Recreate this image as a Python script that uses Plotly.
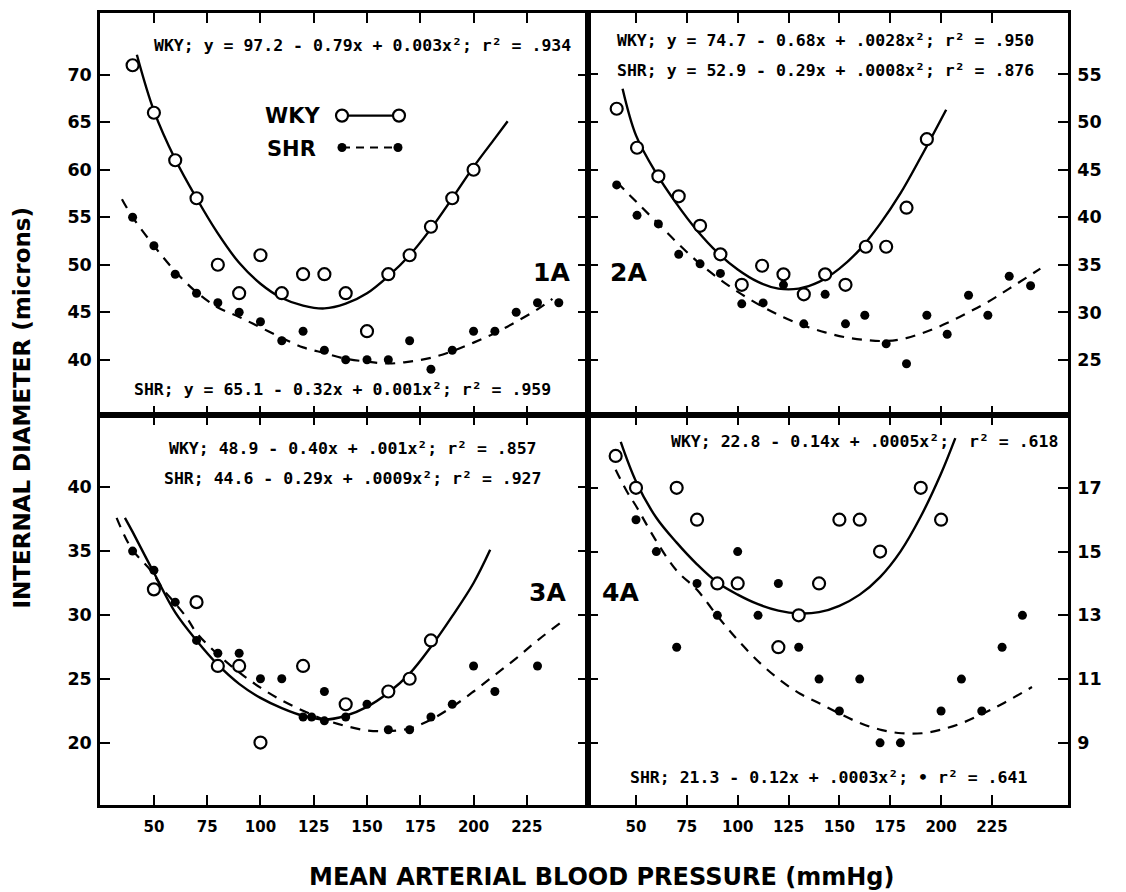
import plotly.graph_objects as go

# ---------------- data ----------------
x_tick_vals = [50, 75, 100, 125, 150, 175, 200, 225]

# Panel 1A
p1_wky_x = [40, 50, 60, 70, 80, 90, 100, 110, 120, 130, 140, 150, 160, 170, 180, 190, 200]
p1_wky_y = [71, 66, 61, 57, 50, 47, 51, 47, 49, 49, 47, 43, 49, 51, 54, 57, 60]
p1_shr_x = [40, 50, 60, 70, 80, 90, 100, 110, 120, 130, 140, 150, 160, 170, 180, 190, 200, 210, 220, 230, 240]
p1_shr_y = [55, 52, 49, 47, 46, 45, 44, 42, 43, 41, 40, 40, 40, 42, 39, 41, 43, 43, 45, 46, 46]
p1_wky_fit_x = [42, 50, 60, 70, 80, 90, 100, 110, 120, 130, 140, 150, 160, 170, 180, 190, 200, 210, 216]
p1_wky_fit_y = [72.1, 66.2, 61.1, 57.0, 53.3, 50.2, 48.0, 46.5, 45.7, 45.4, 45.9, 47.0, 48.8, 51.0, 53.8, 57.0, 60.3, 63.3, 65.1]
p1_shr_fit_x = [35, 40, 50, 60, 70, 80, 90, 100, 110, 120, 130, 140, 150, 160, 170, 180, 190, 200, 210, 220, 230, 237]
p1_shr_fit_y = [56.9, 55.0, 52.0, 49.3, 47.1, 45.5, 44.5, 43.4, 42.3, 41.3, 40.7, 40.1, 39.8, 39.6, 39.8, 40.2, 40.9, 41.8, 42.8, 44.0, 45.3, 46.4]
p1_y_ticks = [40, 45, 50, 55, 60, 65, 70]

# Panel 2A
p2_wky_x = [40.5, 50.5, 61, 71, 81.5, 91.5, 102, 112, 122.5, 132.5, 143, 153, 163, 173, 183, 193]
p2_wky_y = [51.4, 47.3, 44.3, 42.2, 39.1, 36.1, 32.9, 34.9, 34.0, 31.9, 34.0, 32.9, 36.9, 36.9, 41.0, 48.2]
p2_shr_x = [40.5, 50.5, 61, 71, 81.5, 91.5, 102, 112.5, 122.5, 132.5, 143, 153, 162.5, 173, 183, 193, 203, 213.5, 223, 233.5, 244]
p2_shr_y = [43.4, 40.2, 39.3, 36.1, 35.1, 34.1, 30.9, 31.0, 32.9, 28.8, 31.9, 28.8, 29.7, 26.7, 24.6, 29.7, 27.7, 31.8, 29.7, 33.8, 32.8]
p2_wky_fit_x = [43.4, 50, 60, 70, 80, 90, 100, 110, 120, 130, 140, 150, 160, 170, 180, 190, 202.5]
p2_wky_fit_y = [53.5, 48.6, 44.6, 41.4, 38.6, 36.3, 34.5, 33.2, 32.5, 32.5, 33.2, 34.6, 36.6, 39.3, 42.5, 46.3, 51.3]
p2_shr_fit_x = [40.5, 50.7, 61, 71.3, 81.5, 91.7, 102, 112.2, 122.5, 132.7, 143, 152.8, 163, 173.3, 182.9, 193, 203.2, 213.4, 223, 233.5, 248.8]
p2_shr_fit_y = [43.7, 41.5, 39.3, 37.1, 35.1, 33.4, 31.9, 30.6, 29.5, 28.6, 27.9, 27.4, 27.1, 27.0, 27.3, 28.0, 28.9, 30.0, 31.1, 32.5, 34.6]
p2_y_ticks = [25, 30, 35, 40, 45, 50, 55]

# Panel 3A
p3_wky_x = [50, 70, 80, 90, 100, 120, 140, 160, 170, 180]
p3_wky_y = [32, 31, 26, 26, 20, 26, 23, 24, 25, 28]
p3_shr_x = [40, 50, 60, 70, 80, 90, 100, 110, 120, 124, 130, 130, 140, 150, 160, 170, 180, 190, 200, 210, 230]
p3_shr_y = [35, 33.5, 31, 28, 27, 27, 25, 25, 22, 22, 24, 21.7, 22, 23, 21, 21, 22, 23, 26, 24, 26]
p3_wky_fit_x = [36.4, 40, 50, 60, 70, 80, 90, 100, 110, 120, 130, 140, 150, 160, 170, 180, 190, 200, 207.8]
p3_wky_fit_y = [37.6, 36.5, 33.3, 30.2, 28.0, 26.1, 24.6, 23.5, 22.7, 22.1, 21.8, 22.1, 22.8, 23.9, 25.4, 27.5, 29.9, 32.5, 35.1]
p3_shr_fit_x = [32.5, 39.5, 48.9, 54.4, 60, 65.3, 70, 80, 90, 100, 110, 120, 130, 140, 150, 160, 170, 180, 190, 200, 210, 220, 230, 243.3]
p3_shr_fit_y = [37.6, 35.2, 33.4, 32.0, 30.9, 29.8, 28.6, 26.9, 25.5, 24.3, 23.3, 22.5, 21.8, 21.3, 20.95, 20.9, 21.1, 21.8, 22.8, 24.0, 25.3, 26.6, 28.0, 29.7]
p3_y_ticks = [20, 25, 30, 35, 40]

# Panel 4A
p4_wky_x = [40, 50, 70, 80, 90, 100, 120, 130, 140, 150, 160, 170, 190, 200]
p4_wky_y = [18, 17, 17, 16, 14, 14, 12, 13, 14, 16, 16, 15, 17, 16]
p4_shr_x = [50, 60, 70, 80, 90, 100, 110, 120, 130, 140, 150, 160, 170, 180, 200, 210, 220, 230, 240]
p4_shr_y = [16, 15, 12, 14, 13, 15, 13, 14, 12, 11, 10, 11, 9, 9, 10, 11, 10, 12, 13]
p4_wky_fit_x = [42.5, 50, 60, 70, 80, 90, 100, 110, 120, 130, 140, 150, 160, 170, 180, 190, 200, 207]
p4_wky_fit_y = [18.44, 17.2, 16.06, 15.28, 14.6, 14.03, 13.65, 13.35, 13.15, 13.06, 13.1, 13.3, 13.65, 14.2, 15.0, 16.1, 17.45, 18.56]
p4_shr_fit_x = [40, 45.4, 50.3, 59.3, 70, 80, 90.5, 100.4, 111, 121, 130.7, 141.4, 151.2, 161, 171, 180.7, 190.6, 200.4, 210.2, 220, 230, 244.7]
p4_shr_fit_y = [17.57, 16.9, 16.4, 15.4, 14.4, 13.8, 12.94, 12.2, 11.5, 10.96, 10.54, 10.2, 9.88, 9.6, 9.4, 9.3, 9.3, 9.42, 9.62, 9.9, 10.22, 10.75]
p4_y_ticks = [9, 11, 13, 15, 17]

# Equations / labels
eq_texts = [
    "WKY; y = 97.2 - 0.79x + 0.003x²; r² = .934",
    "SHR; y = 65.1 - 0.32x + 0.001x²; r² = .959",
    "WKY; y = 74.7 - 0.68x + .0028x²; r² = .950",
    "SHR; y = 52.9 - 0.29x + .0008x²; r² = .876",
    "WKY; 48.9 - 0.40x + .001x²; r² = .857",
    "SHR; 44.6 - 0.29x + .0009x²; r² = .927",
    "WKY; 22.8 - 0.14x + .0005x²;  r² = .618",
    "SHR; 21.3 - 0.12x + .0003x²; • r² = .641",
]
panel_names = ["1A", "2A", "3A", "4A"]
y_title = "INTERNAL DIAMETER (microns)"
x_title = "MEAN ARTERIAL BLOOD PRESSURE (mmHg)"

# ---------------- layout geometry (pixels) ----------------
W, H = 1126, 892
L, R, T, B = 100, 1068, 10, 805
MIDX, MIDY = 588, 414


def fx(px):
    return (px - L) / (R - L)


def fy(py):
    return (B - py) / (B - T)


xs = fx(MIDX)
ys = fy(MIDY)

SANS = "DejaVu Sans"
MONO = "DejaVu Sans Mono"

fig = go.Figure()

panels = [
    ("x", "y", p1_wky_x, p1_wky_y, p1_shr_x, p1_shr_y, p1_wky_fit_x, p1_wky_fit_y, p1_shr_fit_x, p1_shr_fit_y),
    ("x2", "y2", p2_wky_x, p2_wky_y, p2_shr_x, p2_shr_y, p2_wky_fit_x, p2_wky_fit_y, p2_shr_fit_x, p2_shr_fit_y),
    ("x3", "y3", p3_wky_x, p3_wky_y, p3_shr_x, p3_shr_y, p3_wky_fit_x, p3_wky_fit_y, p3_shr_fit_x, p3_shr_fit_y),
    ("x4", "y4", p4_wky_x, p4_wky_y, p4_shr_x, p4_shr_y, p4_wky_fit_x, p4_wky_fit_y, p4_shr_fit_x, p4_shr_fit_y),
]

for xa, ya, wx, wy, sx, sy, wfx, wfy, sfx, sfy in panels:
    fig.add_trace(go.Scatter(x=wfx, y=wfy, xaxis=xa, yaxis=ya, mode="lines",
                             line=dict(color="black", width=2.4, shape="spline", smoothing=1.0),
                             hoverinfo="skip", showlegend=False))
    fig.add_trace(go.Scatter(x=sfx, y=sfy, xaxis=xa, yaxis=ya, mode="lines",
                             line=dict(color="black", width=2.2, dash="10px,8px", shape="spline", smoothing=1.0),
                             hoverinfo="skip", showlegend=False))
    fig.add_trace(go.Scatter(x=sx, y=sy, xaxis=xa, yaxis=ya, mode="markers", name="SHR",
                             marker=dict(symbol="circle", size=9, color="black"),
                             showlegend=False))
    fig.add_trace(go.Scatter(x=wx, y=wy, xaxis=xa, yaxis=ya, mode="markers", name="WKY",
                             marker=dict(symbol="circle", size=12, color="white",
                                         line=dict(color="black", width=2.2)),
                             showlegend=False))

common = dict(showline=True, linecolor="black", linewidth=2.5, mirror="ticks",
              ticks="inside", ticklen=10, tickwidth=2, tickcolor="black",
              showgrid=False, zeroline=False)

xfont = dict(family=SANS, size=15, color="black", weight="bold")
yfont = dict(family=SANS, size=17.5, color="black", weight="bold")

fig.update_layout(
    width=W, height=H,
    margin=dict(l=L, r=W - R, t=T, b=H - B, pad=0),
    paper_bgcolor="white", plot_bgcolor="white",
    showlegend=False,
    xaxis=dict(domain=[0, xs], range=[24.7, 253.7], anchor="y", tickvals=x_tick_vals,
               showticklabels=False, **common),
    xaxis2=dict(domain=[xs, 1], range=[26.4, 262.4], anchor="y2", tickvals=x_tick_vals,
                showticklabels=False, **common),
    xaxis3=dict(domain=[0, xs], range=[24.7, 253.7], anchor="y3", tickvals=x_tick_vals,
                tickfont=xfont, ticklabelstandoff=6, **common),
    xaxis4=dict(domain=[xs, 1], range=[26.4, 262.4], anchor="y4", tickvals=x_tick_vals,
                tickfont=xfont, ticklabelstandoff=6, **common),
    yaxis=dict(domain=[ys, 1], range=[34.13, 76.5], anchor="x", tickvals=p1_y_ticks,
               tickfont=yfont, ticklabelstandoff=2, **common),
    yaxis2=dict(domain=[ys, 1], range=[19.17, 61.46], anchor="x2", side="right",
                tickvals=p2_y_ticks, tickfont=yfont, ticklabelstandoff=3, **common),
    yaxis3=dict(domain=[0, ys], range=[15.11, 45.62], anchor="x3", tickvals=p3_y_ticks,
                tickfont=yfont, ticklabelstandoff=2, **common),
    yaxis4=dict(domain=[0, ys], range=[7.05, 19.27], anchor="x4", side="right",
                tickvals=p4_y_ticks, tickfont=yfont, ticklabelstandoff=3, **common),
)

annotations = []
eq_pos = [(362, 43), (342, 388), (825, 38), (825, 68), (353, 447), (353, 477), (864, 440), (828, 777)]
for txt, (px, py) in zip(eq_texts, eq_pos):
    annotations.append(dict(text=txt, x=fx(px), y=fy(py), xref="paper", yref="paper",
                            xanchor="center", yanchor="middle", showarrow=False,
                            font=dict(family=MONO, size=16.5, color="black", weight="bold")))

label_pos = [(551, 270), (628, 270), (547, 592), (620, 592)]
for txt, (px, py) in zip(panel_names, label_pos):
    annotations.append(dict(text=txt, x=fx(px), y=fy(py), xref="paper", yref="paper",
                            xanchor="center", yanchor="middle", showarrow=False,
                            font=dict(family=SANS, size=25, color="black", weight="bold")))

# legend inside panel 1A
annotations.append(dict(text="WKY", x=fx(322), y=fy(113), xref="paper", yref="paper",
                        xanchor="right", yanchor="middle", showarrow=False,
                        font=dict(family=SANS, size=21, color="black", weight="bold")))
annotations.append(dict(text="SHR", x=fx(318), y=fy(147), xref="paper", yref="paper",
                        xanchor="right", yanchor="middle", showarrow=False,
                        font=dict(family=SANS, size=21, color="black", weight="bold")))

# axis titles
annotations.append(dict(text=y_title, x=(22 - L) / (R - L), y=fy(406), xref="paper", yref="paper",
                        xanchor="center", yanchor="middle", textangle=-90, showarrow=False,
                        font=dict(family=SANS, size=23, color="black", weight="bold")))
annotations.append(dict(text=x_title, x=fx(601), y=fy(877), xref="paper", yref="paper",
                        xanchor="center", yanchor="middle", showarrow=False,
                        font=dict(family=SANS, size=24, color="black", weight="bold")))

shapes = []
# legend samples: open circle - solid line - open circle; dot - dashed line - dot
shapes.append(dict(type="line", xref="paper", yref="paper", x0=fx(342), x1=fx(399),
                   y0=fy(113), y1=fy(113), line=dict(color="black", width=2.4)))
shapes.append(dict(type="line", xref="paper", yref="paper", x0=fx(342), x1=fx(398),
                   y0=fy(145), y1=fy(145), line=dict(color="black", width=2.2, dash="8px,6px")))
for cx, cy, filled in [(342, 113, False), (399, 113, False), (342, 145, True), (398, 145, True)]:
    r = 4.5 if filled else 6
    shapes.append(dict(type="circle", xref="paper", yref="paper",
                       xsizemode="pixel", ysizemode="pixel",
                       xanchor=fx(cx), yanchor=fy(cy), x0=-r, x1=r, y0=-r, y1=r,
                       fillcolor="black" if filled else "white",
                       line=dict(color="black", width=0 if filled else 2.2)))

fig.update_layout(annotations=annotations, shapes=shapes)

fig.write_html("out.html",
               config={"displayModeBar": False},
               post_script="document.body.style.margin='0';document.body.style.padding='0';")
